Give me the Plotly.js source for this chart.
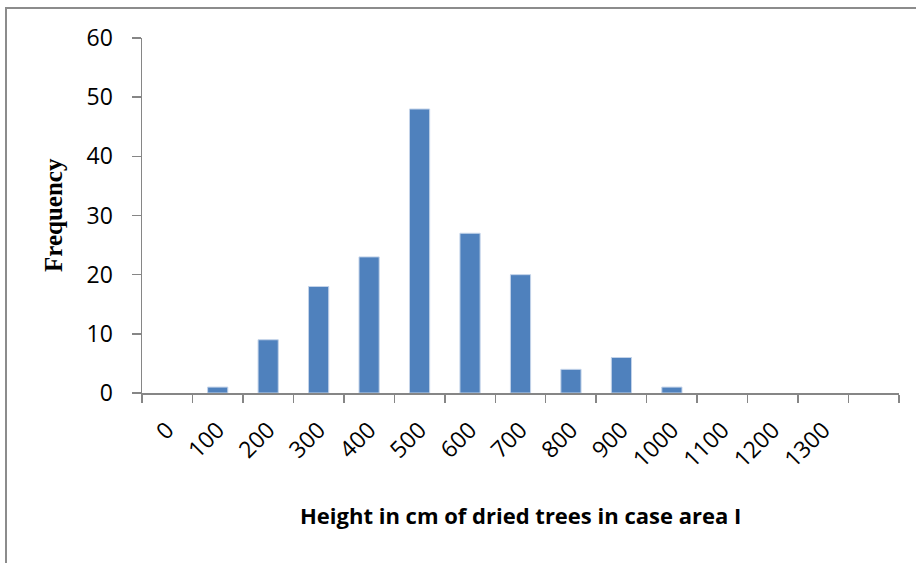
<!DOCTYPE html>
<html>
<head>
<meta charset="utf-8">
<script src="https://cdn.plot.ly/plotly-3.0.1.min.js"></script>
<style>
  html, body { margin: 0; padding: 0; background: #fff; overflow: hidden; }
  #wrap { position: relative; width: 916px; height: 563px; }
  #frame { position: absolute; left: 5px; top: 7px; width: 930px; height: 580px;
           border-left: 2px solid #8c8c8c; border-top: 2px solid #8c8c8c; }
  #chart { position: absolute; left: 0; top: 0; width: 916px; height: 563px; }
</style>
</head>
<body>
<div id="wrap">
  <div id="frame"></div>
  <div id="chart"></div>
</div>
<script>
// Height classes (cm) and how many dried trees fall in each
const heightClasses = [0, 100, 200, 300, 400, 500, 600, 700, 800, 900, 1000, 1100, 1200, 1300];
const frequency     = [0, 1, 9, 18, 23, 48, 27, 20, 4, 6, 1, 0, 0, 0];
const tickLabels    = ['0', '100', '200', '300', '400', '500', '600', '700', '800', '900', '1000', '1100', '1200', '1300'];
// Class boundaries where the axis tick marks sit
const classEdges    = [-50, 50, 150, 250, 350, 450, 550, 650, 750, 850, 950, 1050, 1150, 1250, 1350, 1450];

const axisGrey = '#868686';
const labelFont = { family: 'Open Sans, Lato, sans-serif', size: 23, color: '#000' };

const trace = {
  type: 'bar',
  x: heightClasses,
  y: frequency,
  width: 40,
  marker: {
    color: '#4F81BD',
    // empty classes get no outline so nothing shows on the baseline
    line: { color: '#C3D3E9', width: frequency.map(v => (v > 0 ? 1 : 0)) }
  },
  hoverinfo: 'x+y'
};

// A hidden companion trace carries the rotated class labels on xaxis2
const labelTrace = {
  type: 'scatter', mode: 'markers', x: heightClasses, y: frequency.map(() => null),
  xaxis: 'x2', yaxis: 'y', hoverinfo: 'skip', showlegend: false
};

const layout = {
  width: 916,
  height: 563,
  margin: { l: 142, r: 17, t: 38, b: 170 },
  paper_bgcolor: 'rgba(0,0,0,0)',
  plot_bgcolor: 'rgba(0,0,0,0)',
  showlegend: false,
  xaxis: {
    range: [-50, 1450],
    tickmode: 'array',
    tickvals: classEdges,
    showticklabels: false,
    ticks: 'outside',
    ticklen: 8,
    tickwidth: 1.5,
    tickcolor: axisGrey,
    showline: true,
    linecolor: axisGrey,
    linewidth: 1.5,
    showgrid: false,
    zeroline: false,
    fixedrange: true
  },
  xaxis2: {
    overlaying: 'x',
    anchor: 'y',
    side: 'bottom',
    range: [-50, 1450],
    tickmode: 'array',
    tickvals: heightClasses,
    ticktext: tickLabels,
    tickangle: -45,
    ticks: '',
    ticklen: 0,
    ticklabelstandoff: 18,
    tickfont: labelFont,
    showline: false,
    showgrid: false,
    zeroline: false,
    fixedrange: true
  },
  yaxis: {
    range: [0, 60],
    tickmode: 'array',
    tickvals: [0, 10, 20, 30, 40, 50, 60],
    ticks: 'outside',
    ticklen: 9,
    tickwidth: 1.5,
    tickcolor: axisGrey,
    ticklabelstandoff: 14,
    tickfont: labelFont,
    showline: true,
    linecolor: axisGrey,
    linewidth: 1.5,
    showgrid: false,
    zeroline: false,
    fixedrange: true
  },
  annotations: [
    {
      text: '<b>Height in cm of dried trees in case area I</b>',
      xref: 'paper', yref: 'paper',
      x: 0.5, y: -0.345,
      xanchor: 'center', yanchor: 'middle',
      showarrow: false,
      font: { family: 'Open Sans, Lato, sans-serif', size: 22, color: '#000' }
    },
    {
      text: '<b>Frequency</b>',
      xref: 'paper', yref: 'paper',
      x: -0.116, y: 0.502,
      xanchor: 'center', yanchor: 'middle',
      textangle: -90,
      showarrow: false,
      font: { family: 'Liberation Serif, Times New Roman, serif', size: 25, color: '#000' }
    }
  ]
};

Plotly.newPlot('chart', [trace, labelTrace], layout, { displayModeBar: false, staticPlot: true });
</script>
</body>
</html>
